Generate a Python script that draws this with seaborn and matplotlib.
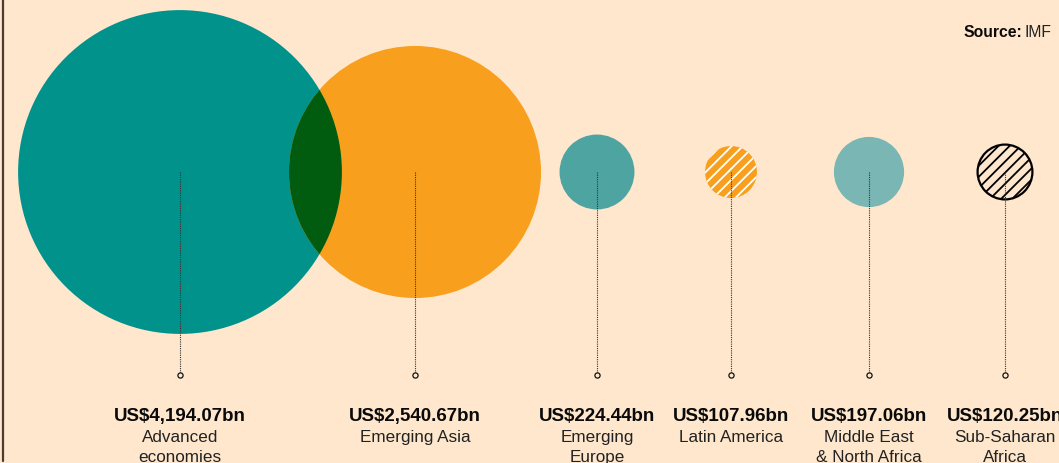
import numpy as np
import pandas as pd
import matplotlib
matplotlib.use("Agg")
import matplotlib.pyplot as plt
from matplotlib.patches import Circle
import seaborn as sns

# data
regions = ["Advanced\neconomies", "Emerging Asia", "Emerging\nEurope", "Latin America",
           "Middle East\n& North Africa", "Sub-Saharan\nAfrica"]
values = [4194.07, 2540.67, 224.44, 107.96, 197.06, 120.25]   # US$ bn
value_labels = ["US$4,194.07bn", "US$2,540.67bn", "US$224.44bn", "US$107.96bn",
                "US$197.06bn", "US$120.25bn"]

# layout (pixel coords, y down)
x_pos = [180, 415, 597, 731, 869, 1005]
y_mid = 173
y_end = 376
scale = 2.5           # radius = scale * sqrt(value), area proportional

bg = "#FEE7CD"
fills = ["#02928C", "#F8A01E", "#4DA4A1", "#F8A01E", "#79B6B4", "none"]
overlap = "#025C10"

sns.set_theme(style="white", rc={"axes.facecolor": bg, "figure.facecolor": bg})
plt.rcParams["font.family"] = ["Liberation Sans", "DejaVu Sans"]
plt.rcParams["hatch.linewidth"] = 1.3

df = pd.DataFrame({"region": regions, "value": values, "x": x_pos})
df["r"] = scale * np.sqrt(df["value"])

fig = plt.figure(figsize=(10.59, 4.64), dpi=100)
ax = fig.add_axes([0, 0, 1, 1])
ax.set_xlim(0, 1059)
ax.set_ylim(464, 0)
ax.axis("off")

patches = []
for i, row in df.iterrows():
    if i == 5:
        c = Circle((row.x, y_mid), row.r, facecolor="none", edgecolor="black",
                   lw=1.6, hatch="///", zorder=2)
    else:
        c = Circle((row.x, y_mid), row.r, facecolor=fills[i], edgecolor="none", lw=0, zorder=2)
    ax.add_patch(c)
    patches.append(c)

# hatch on Latin America
ax.add_patch(Circle((df.x[3], y_mid), df.r[3], facecolor="none", edgecolor="white",
                    lw=0, hatch="///", zorder=3))

# overlap lens of the two big circles
lens = Circle((df.x[1], y_mid), df.r[1], facecolor=overlap, edgecolor="none", zorder=3)
ax.add_patch(lens)
lens.set_clip_path(patches[0])

# stems
ax.vlines(df["x"], y_mid, y_end, colors="#333333", lw=0.8, linestyles=(0, (1, 1)), zorder=4)
ends = pd.DataFrame({"x": x_pos, "y": [y_end] * len(x_pos)})
sns.scatterplot(data=ends, x="x", y="y", ax=ax, s=14, color=bg, edgecolor="#111111",
                linewidth=0.9, zorder=5, legend=False)

# labels
for i, row in df.iterrows():
    ax.text(row.x, 421, value_labels[i], ha="center", va="baseline",
            fontsize=13.5, fontweight="bold", color="#0A0A0A")
    for j, line in enumerate(row.region.split("\n")):
        ax.text(row.x, 442 + 20 * j, line, ha="center", va="baseline",
                fontsize=12.3, color="#222222")

# source note
imf = ax.text(1052, 37, "IMF", ha="right", va="baseline", fontsize=11.3, color="#222222")
fig.canvas.draw()
w = imf.get_window_extent().width
ax.text(1052 - w - 3, 37, "Source:", ha="right", va="baseline", fontsize=11.3,
        fontweight="bold", color="#0A0A0A")

# left rule
ax.plot([2.5, 2.5], [0, 462], color="#4A3C30", lw=1.6, zorder=6)

fig.savefig("out.png", dpi=100, facecolor=bg)
